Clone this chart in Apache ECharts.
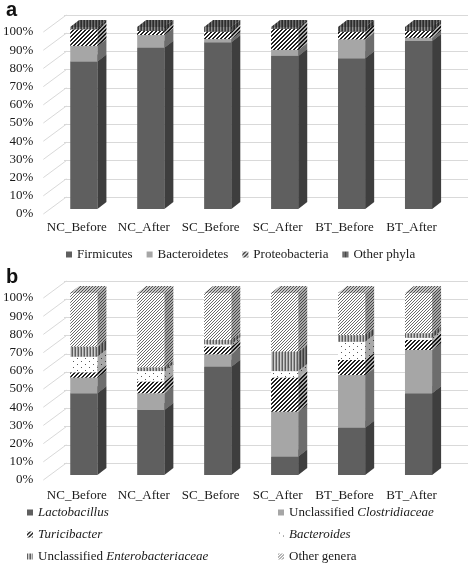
<!DOCTYPE html>
<html><head><meta charset="utf-8">
<script src="https://cdn.jsdelivr.net/npm/echarts@6/dist/echarts.min.js"></script>
<style>html,body{margin:0;padding:0;background:#fff}#c{width:472px;height:565px}</style>
</head><body><div id="c"></div>
<script>
// ---------- data ----------
const categories = ['NC_Before', 'NC_After', 'SC_Before', 'SC_After', 'BT_Before', 'BT_After'];
const percentTicks = [0, 10, 20, 30, 40, 50, 60, 70, 80, 90, 100];

// panel a (phyla, %)
const phylaNames = ['Firmicutes', 'Bacteroidetes', 'Proteobacteria', 'Other phyla'];
const firmicutes     = [81.0, 88.6, 91.6, 84.1, 82.8, 92.3];
const bacteroidetes  = [8.6, 7.0, 1.8, 3.3, 10.4, 1.8];
const proteobacteria = [9.1, 2.2, 4.0, 11.6, 4.2, 3.7];
const otherPhyla     = [1.3, 2.2, 2.6, 1.0, 2.6, 2.2];

// panel b (genera, %)
const generaNames = ['Lactobacillus', 'Unclassified Clostridiaceae', 'Turicibacter', 'Bacteroides', 'Unclassified Enterobacteriaceae', 'Other genera'];
const lactobacillus      = [44.9, 35.7, 59.5, 10.1, 26.0, 44.9];
const clostridiaceae     = [8.6, 9.2, 6.8, 24.7, 28.9, 23.8];
const turicibacter       = [2.9, 6.4, 4.2, 18.7, 8.3, 5.5];
const bacteroides        = [8.6, 5.8, 1.3, 3.6, 10.0, 1.2];
const enterobacteriaceae = [5.5, 1.9, 2.4, 10.6, 3.7, 2.5];
const otherGenera        = [29.5, 41.0, 25.8, 32.3, 23.1, 22.1];

// ---------- styling ----------
const SERIF = '"Liberation Serif", "Times New Roman", serif';
const TXT = '#1a1a1a';
const GRID_LINE = '#d9d9d9';
const WALL_DX = 23, WALL_DY = -17;     // back wall offset
const BAR_SHIFT_X = 7, BAR_SHIFT_Y = -5; // bar front plane offset
const DEPTH_X = 9, DEPTH_Y = -7;       // bar depth
const BAR_FRAC = 0.405;

function makePattern(w, h, pix) {
  const c = document.createElement('canvas');
  c.width = w; c.height = h;
  const g = c.getContext('2d');
  for (let y = 0; y < h; y++) for (let x = 0; x < w; x++) {
    g.fillStyle = pix(x, y);
    g.fillRect(x, y, 1, 1);
  }
  return { image: c, repeat: 'repeat' };
}
const solidDark = '#5f5f5f';
const solidLight = '#a6a6a6';
const diagWide = makePattern(4, 4, (x, y) => ((x + y) % 4 >= 2 ? '#222222' : '#ffffff'));
const vertDark = makePattern(3, 1, (x) => ['#3a3a3a', '#909090', '#5a5a5a'][x]);
const vertMid  = makePattern(3, 1, (x) => ['#5e5e5e', '#cfcfcf', '#9a9a9a'][x]);
const dots = makePattern(8, 6, (x, y) => (((x === 1 && y === 1) || (x === 5 && y === 4)) ? '#5a5a5a' : '#ffffff'));
const diagFine = makePattern(3, 3, (x, y) => ((x + y) % 3 === 0 ? '#6a6a6a' : '#ffffff'));

function barRenderer(fill) {
  return function (params, api) {
    const i = api.value(0), lo = api.value(1), hi = api.value(2);
    const pLo = api.coord([i, lo]), pHi = api.coord([i, hi]);
    const band = api.size([1, 0])[0];
    const w = band * BAR_FRAC;
    const x0 = pLo[0] - w / 2 + BAR_SHIFT_X;
    const yb = pLo[1] + BAR_SHIFT_Y, yt = pHi[1] + BAR_SHIFT_Y;
    const side = [[x0 + w, yt], [x0 + w + DEPTH_X, yt + DEPTH_Y], [x0 + w + DEPTH_X, yb + DEPTH_Y], [x0 + w, yb]];
    const top = [[x0, yt], [x0 + w, yt], [x0 + w + DEPTH_X, yt + DEPTH_Y], [x0 + DEPTH_X, yt + DEPTH_Y]];
    return {
      type: 'group', children: [
        { type: 'polygon', shape: { points: side }, style: { fill: fill } },
        { type: 'polygon', shape: { points: side }, style: { fill: 'rgba(0,0,0,0.34)' } },
        { type: 'polygon', shape: { points: top }, style: { fill: fill } },
        { type: 'polygon', shape: { points: top }, style: { fill: 'rgba(0,0,0,0.22)' } },
        { type: 'rect', shape: { x: x0, y: yt, width: w, height: yb - yt }, style: { fill: fill } }
      ]
    };
  };
}

function stackedSeries(names, arrays, fills, axisIdx) {
  const base = categories.map(() => 0);
  return names.map((name, k) => {
    const data = categories.map((c, i) => {
      const lo = base[i], hi = base[i] + arrays[k][i];
      base[i] = hi;
      return [i, lo, hi];
    });
    return {
      type: 'custom', name: name, xAxisIndex: axisIdx, yAxisIndex: axisIdx,
      itemStyle: { color: fills[k] },
      encode: { x: 0, y: [1, 2] },
      renderItem: barRenderer(fills[k]),
      data: data, z: 3, silent: true
    };
  });
}

function wallDiagonals(axisIdx) {
  return {
    type: 'custom', xAxisIndex: axisIdx, yAxisIndex: axisIdx, silent: true, z: 1,
    data: percentTicks.map(v => [0, v]),
    encode: { x: 0, y: 1 },
    renderItem: function (params, api) {
      const p = api.coord([0, api.value(1)]);
      const x = params.coordSys.x;
      return { type: 'line', shape: { x1: x, y1: p[1], x2: x + WALL_DX, y2: p[1] + WALL_DY },
        style: { stroke: GRID_LINE, lineWidth: 1 } };
    }
  };
}

const FRONT_W = 404, FRONT_L = 41;
const grids = [
  { left: FRONT_L, top: 32, width: FRONT_W, height: 182 },
  { left: FRONT_L + WALL_DX, top: 32 + WALL_DY, width: FRONT_W, height: 182 },
  { left: FRONT_L, top: 298, width: FRONT_W, height: 182 },
  { left: FRONT_L + WALL_DX, top: 298 + WALL_DY, width: FRONT_W, height: 182 }
];

function xAx(gi, show, margin) {
  return {
    type: 'category', gridIndex: gi, data: categories, show: true,
    axisLine: { show: false }, axisTick: { show: false },
    axisLabel: { show: show, margin: margin, fontFamily: SERIF, fontSize: 13, color: TXT, interval: 0 }
  };
}
function yAx(gi, front) {
  return {
    type: 'value', gridIndex: gi, min: 0, max: 100, interval: 10,
    axisLine: { show: false }, axisTick: { show: false },
    axisLabel: { show: front, formatter: '{value}%', margin: 10, fontFamily: SERIF, fontSize: 13, color: TXT },
    splitLine: { show: !front, lineStyle: { color: GRID_LINE, width: 1 } }
  };
}

const italicLabel = {
  'Lactobacillus': '{i|Lactobacillus}',
  'Unclassified Clostridiaceae': 'Unclassified {i|Clostridiaceae}',
  'Turicibacter': '{i|Turicibacter}',
  'Bacteroides': '{i|Bacteroides}',
  'Unclassified Enterobacteriaceae': 'Unclassified {i|Enterobacteriaceae}',
  'Other genera': 'Other genera'
};
const legendText = { fontFamily: SERIF, fontSize: 13, color: TXT,
  rich: { i: { fontFamily: SERIF, fontSize: 13, fontStyle: 'italic', color: TXT } } };

const option = {
  animation: false,
  backgroundColor: '#fff',
  title: [
    { text: 'a', left: 1, top: -5, textStyle: { fontFamily: '"Liberation Sans", Arial, sans-serif', fontWeight: 'bold', fontSize: 20, color: '#111' } },
    { text: 'b', left: 1, top: 262, textStyle: { fontFamily: '"Liberation Sans", Arial, sans-serif', fontWeight: 'bold', fontSize: 20, color: '#111' } }
  ],
  grid: grids,
  xAxis: [xAx(0, true, 7), xAx(1, false, 0), xAx(2, true, 9), xAx(3, false, 0)],
  yAxis: [yAx(0, true), yAx(1, false), yAx(2, true), yAx(3, false)],
  legend: [
    { data: phylaNames, left: 66, top: 248, orient: 'horizontal', itemGap: 14, itemWidth: 6, itemHeight: 6,
      icon: 'rect', padding: 0, selectedMode: false, textStyle: legendText },
    { data: ['Lactobacillus', 'Turicibacter', 'Unclassified Enterobacteriaceae'], left: 27, top: 506, orient: 'vertical',
      itemGap: 9, itemWidth: 6, itemHeight: 6, icon: 'rect', padding: 0, selectedMode: false,
      formatter: n => italicLabel[n], textStyle: legendText },
    { data: ['Unclassified Clostridiaceae', 'Bacteroides', 'Other genera'], left: 278, top: 506, orient: 'vertical',
      itemGap: 9, itemWidth: 6, itemHeight: 6, icon: 'rect', padding: 0, selectedMode: false,
      formatter: n => italicLabel[n], textStyle: legendText }
  ],
  series: [
    wallDiagonals(0),
    wallDiagonals(2),
    ...stackedSeries(phylaNames, [firmicutes, bacteroidetes, proteobacteria, otherPhyla],
      [solidDark, solidLight, diagWide, vertDark], 0),
    ...stackedSeries(generaNames, [lactobacillus, clostridiaceae, turicibacter, bacteroides, enterobacteriaceae, otherGenera],
      [solidDark, solidLight, diagWide, dots, vertMid, diagFine], 2)
  ]
};
const chart = echarts.init(document.getElementById('c'), null, { renderer: 'canvas' });
chart.setOption(option);
</script>
</body></html>
